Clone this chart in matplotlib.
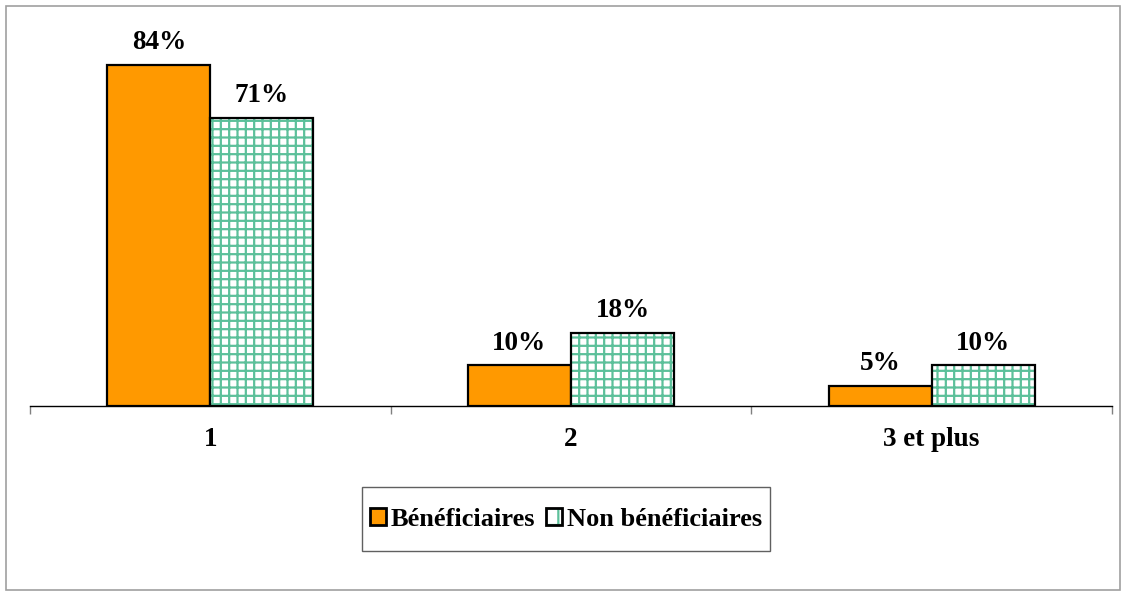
import numpy as np
import matplotlib.pyplot as plt
from matplotlib.patches import Rectangle, Patch

categories = ["1", "2", "3 et plus"]
beneficiaires = [84, 10, 5]
non_beneficiaires = [71, 18, 10]
series_names = ["Bénéficiaires", "Non bénéficiaires"]

plt.rcParams["font.family"] = ["Liberation Serif", "DejaVu Serif"]
plt.rcParams["hatch.linewidth"] = 1.6
green = "#5cc09a"
orange = "#ff9900"

W, H = 1127, 594
fig = plt.figure(figsize=(W / 100, H / 100), dpi=100)

# axes placed in pixel terms: x 30..1112, baseline y=406, top y=20
ax_left, ax_right, ax_bottom, ax_top = 30, 1112, 406, 20
ax = fig.add_axes([ax_left / W, 1 - ax_bottom / H,
                   (ax_right - ax_left) / W, (ax_bottom - ax_top) / H])

x = np.arange(len(categories))
width = 0.286

b1 = ax.bar(x - width / 2, beneficiaires, width, color=orange,
            edgecolor="black", linewidth=1.6)
# hatch layer (green grid) then black outline on top
ax.bar(x + width / 2, non_beneficiaires, width, color="white",
       edgecolor=green, linewidth=0, hatch="++")
b2 = ax.bar(x + width / 2, non_beneficiaires, width, fill=False,
            edgecolor="black", linewidth=1.6)

for bars, vals in ((b1, beneficiaires), (b2, non_beneficiaires)):
    for bar, v in zip(bars, vals):
        ax.annotate(f"{v}%", (bar.get_x() + bar.get_width() / 2, v),
                    xytext=(0, 7), textcoords="offset points",
                    ha="center", va="bottom", fontsize=19.5, fontweight="bold")

ax.set_xlim(-0.5, len(categories) - 0.5)
ax.set_ylim(0, 84 * (ax_bottom - ax_top) / (ax_bottom - 65))
ax.set_yticks([])
for s in ("left", "right", "top"):
    ax.spines[s].set_visible(False)
ax.spines["bottom"].set_linewidth(1.0)

ax.set_xticks(x)
ax.set_xticklabels(categories, fontsize=19.5, fontweight="bold")
ax.tick_params(axis="x", which="major", length=0, pad=15)
ax.set_xticks(np.arange(len(categories) + 1) - 0.5, minor=True)
ax.tick_params(axis="x", which="minor", length=6, color="#808080", width=1)

handles = [
    Patch(facecolor=orange, edgecolor="black", linewidth=2.0),
    (Patch(facecolor="white", edgecolor=green, hatch="+", linewidth=0),
     Patch(fill=False, edgecolor="black", linewidth=2.0)),
]
leg = fig.legend(handles, series_names, loc="center",
                 bbox_to_anchor=(566 / W, 1 - 519 / H),
                 ncol=2, frameon=False,
                 prop={"size": 19, "weight": "bold"},
                 handlelength=0.6, handleheight=0.6, handletextpad=0.2,
                 columnspacing=0.4, borderpad=0.4, borderaxespad=0)

# legend box (taller than matplotlib's frame would be)
fig.add_artist(Rectangle((362 / W, 1 - 551 / H), 408 / W, 64 / H,
                         transform=fig.transFigure, fill=False,
                         edgecolor="#606060", linewidth=1.0))

# outer chart border
fig.add_artist(Rectangle((6 / W, 4 / H), (W - 13) / W, (H - 10) / H,
                         transform=fig.transFigure, fill=False,
                         edgecolor="#a0a0a0", linewidth=1.2))

fig.savefig("out.png", dpi=100)
